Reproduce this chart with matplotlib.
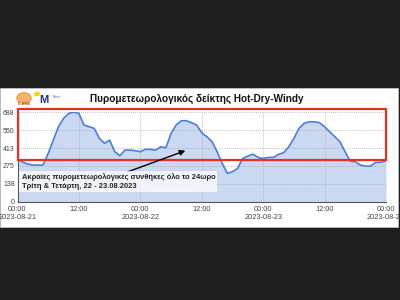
import matplotlib
matplotlib.use("Agg")
import matplotlib.pyplot as plt
from matplotlib.patches import Rectangle, Circle

hours = list(range(73))
hdw = [328, 305, 290, 282, 282, 282, 372, 474, 577, 641, 679, 690, 679, 590, 577, 564,
       487, 449, 474, 385, 354, 397, 397, 392, 385, 403, 403, 397, 423, 415, 526, 590,
       623, 623, 608, 590, 531, 500, 462, 385, 295, 218, 231, 256, 333, 351, 366, 341,
       333, 341, 341, 364, 377, 423, 487, 564, 603, 615, 615, 608, 577, 538, 500, 462,
       385, 313, 308, 282, 274, 274, 303, 303, 315]
xticks = [0, 12, 24, 36, 48, 60, 72]
xlabels = ["00:00\n2023-08-21", "12:00", "00:00\n2023-08-22", "12:00",
           "00:00\n2023-08-23", "12:00", "00:00\n2023-08-24"]
yticks = [0, 137.6, 275.2, 412.8, 550.4, 688]
ylabels = ["0", "138", "275", "413", "550", "688"]
title = "Πυρομετεωρολογικός δείκτης Hot-Dry-Windy"
note = "Ακραίες πυρομετεωρολογικές συνθήκες όλο το 24ωρο\nΤρίτη & Τετάρτη, 22 - 23.08.2023"
box_low, box_high = 321, 713

plt.rcParams['font.family'] = ['Liberation Sans', 'DejaVu Sans']

fig = plt.figure(figsize=(4, 3), dpi=100)
fig.patch.set_facecolor('#1e1e1e')
# white panel
panel = Rectangle((0, 1 - 227/300), 398/400, (227-88)/300,
                  transform=fig.transFigure, facecolor='white',
                  edgecolor='#cccccc', lw=0.5, zorder=-5)
fig.patches.append(panel)

ax = fig.add_axes([17.5/400, 1 - 201.7/300, (386-17.5)/400, (201.7-112.3)/300])
ax.set_zorder(3)
ax.set_facecolor('white')
ax.fill_between(hours, hdw, 0, color='#cad8f2', lw=0, zorder=1)
ax.plot(hours, hdw, color='#4a7ddb', lw=1.2, zorder=2)
ax.set_xlim(0, 72)
ax.set_ylim(0, 688)
ax.set_xticks(xticks)
ax.set_xticklabels(xlabels, fontsize=5.3, color='#444444')
ax.set_yticks(yticks)
ax.set_yticklabels(ylabels, fontsize=5, color='#444444')
ax.tick_params(axis='x', length=0, pad=3)
ax.tick_params(axis='y', length=0, pad=2)
ax.grid(True, linestyle=(0, (1, 1.5)), color='#aaaaaa', lw=0.6)
for s in ['top', 'right']:
    ax.spines[s].set_visible(False)
ax.spines['left'].set_color('#555555')
ax.spines['bottom'].set_color('#555555')
ax.spines['left'].set_linewidth(0.8)
ax.spines['bottom'].set_linewidth(0.8)
ax.axvline(72, linestyle=(0, (1, 1.5)), color='#aaaaaa', lw=0.6)

ax.add_patch(Rectangle((0.15, box_low), 71.85, box_high - box_low, fill=False,
                       edgecolor='#e8301f', lw=1.6, clip_on=False, zorder=5))

ax.annotate('', xy=(33.3, 400), xytext=(21, 222),
            arrowprops=dict(arrowstyle='-|>', color='black', lw=1.0,
                            mutation_scale=8), zorder=6)
ax.text(0.8, 92, note, fontsize=5.4, fontweight='bold', color='#222222',
        va='bottom', ha='left', linespacing=1.35, zorder=6,
        bbox=dict(boxstyle='square,pad=0.3', facecolor='white', alpha=0.75, lw=0))

fig.text(197/400, 1 - 99/300, title, fontsize=7.2, fontweight='bold',
         ha='center', va='center', color='#111111')

# logos (simplified)
fig.patches.append(Circle((24/400, 1 - 98/300), 0.018, transform=fig.transFigure,
                          facecolor='#f6b26b', edgecolor='#e07b20', lw=0.5))
fig.text(24/400, 1 - 104/300, "FLAME", fontsize=2.8, color='#c05010',
         ha='center', va='center', fontweight='bold')
fig.patches.append(Circle((37/400, 1 - 94/300), 0.008, transform=fig.transFigure,
                          facecolor='#ffd21f', lw=0))
fig.text(44/400, 1 - 100/300, "M", fontsize=8, color='#1a2f8f',
         ha='center', va='center', fontweight='bold')
fig.text(53/400, 1 - 97/300, "Meteo", fontsize=2.2, color='#3b6fd0',
         ha='left', va='center')

fig.savefig('out.png', dpi=100, facecolor=fig.get_facecolor())
